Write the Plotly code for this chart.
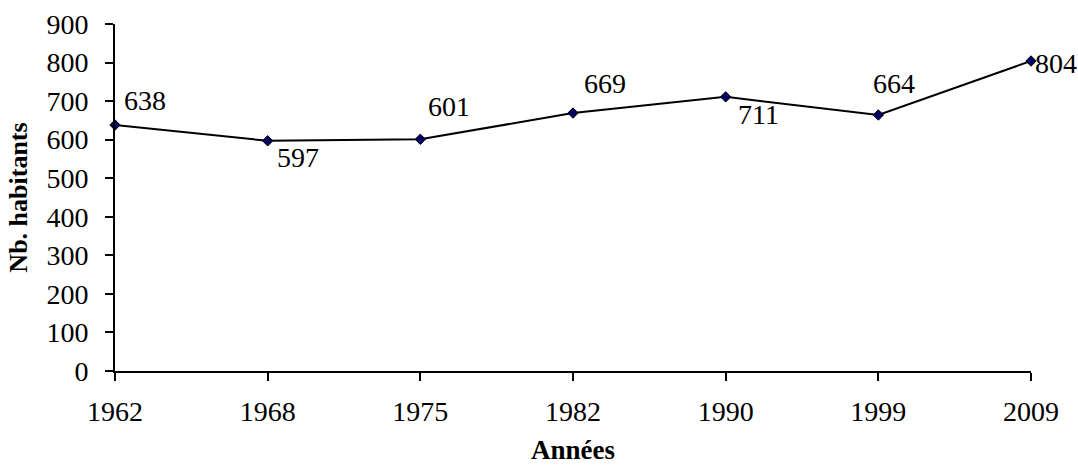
import plotly.graph_objects as go

years = ["1962", "1968", "1975", "1982", "1990", "1999", "2009"]
habitants = [638, 597, 601, 669, 711, 664, 804]
# label offsets (pixels) for each data label
label_dx = [30, 30, 29, 32, 33, 16, 25]
label_dy = [25, -17, 33, 30, -18, 31, -2]
x_title = "Années"
y_title = "Nb. habitants"

FONT = "Liberation Serif, Times New Roman, serif"

fig = go.Figure()
fig.add_trace(go.Scatter(
    x=years, y=habitants, mode="lines+markers",
    line=dict(color="black", width=2),
    marker=dict(symbol="diamond", size=8, color="#000060",
                line=dict(color="black", width=1)),
    cliponaxis=False, showlegend=False,
))

for i, (v, dx, dy) in enumerate(zip(habitants, label_dx, label_dy)):
    fig.add_annotation(x=i, y=v, xref="x", yref="y", text=str(v),
                       showarrow=False, xshift=dx, yshift=dy,
                       font=dict(family=FONT, size=28, color="black"))

# x-axis title placed as a paper annotation below the tick labels
fig.add_annotation(x=0.5, y=0, xref="paper", yref="paper", yanchor="bottom",
                   yshift=-96, text="<b>%s</b>" % x_title, showarrow=False,
                   font=dict(family=FONT, size=27, color="black"))

fig.update_layout(
    width=1078, height=468,
    margin=dict(l=115, r=47, t=24, b=97),
    paper_bgcolor="white", plot_bgcolor="white",
    font=dict(family=FONT, size=28, color="black"),
    xaxis=dict(type="category", range=[0, 6], showline=True, linecolor="black",
               linewidth=2, ticks="outside", ticklen=8, tickwidth=2,
               tickcolor="black", showgrid=False, zeroline=False,
               automargin=False, ticklabelstandoff=6,
               tickfont=dict(family=FONT, size=28)),
    yaxis=dict(range=[0, 900], dtick=100, showline=True, linecolor="black",
               linewidth=2, ticks="outside", ticklen=8, tickwidth=2,
               tickcolor="black", showgrid=False, zeroline=False,
               automargin=False, ticklabelstandoff=11,
               tickfont=dict(family=FONT, size=28),
               title=dict(text="<b>%s</b>" % y_title, standoff=11,
                          font=dict(family=FONT, size=26))),
)

# remove the default page margin so the figure fills the window exactly
fig.write_html("out.html", config={"displayModeBar": False},
               post_script="document.body.style.margin='0';"
                           "document.body.style.overflow='hidden';")
